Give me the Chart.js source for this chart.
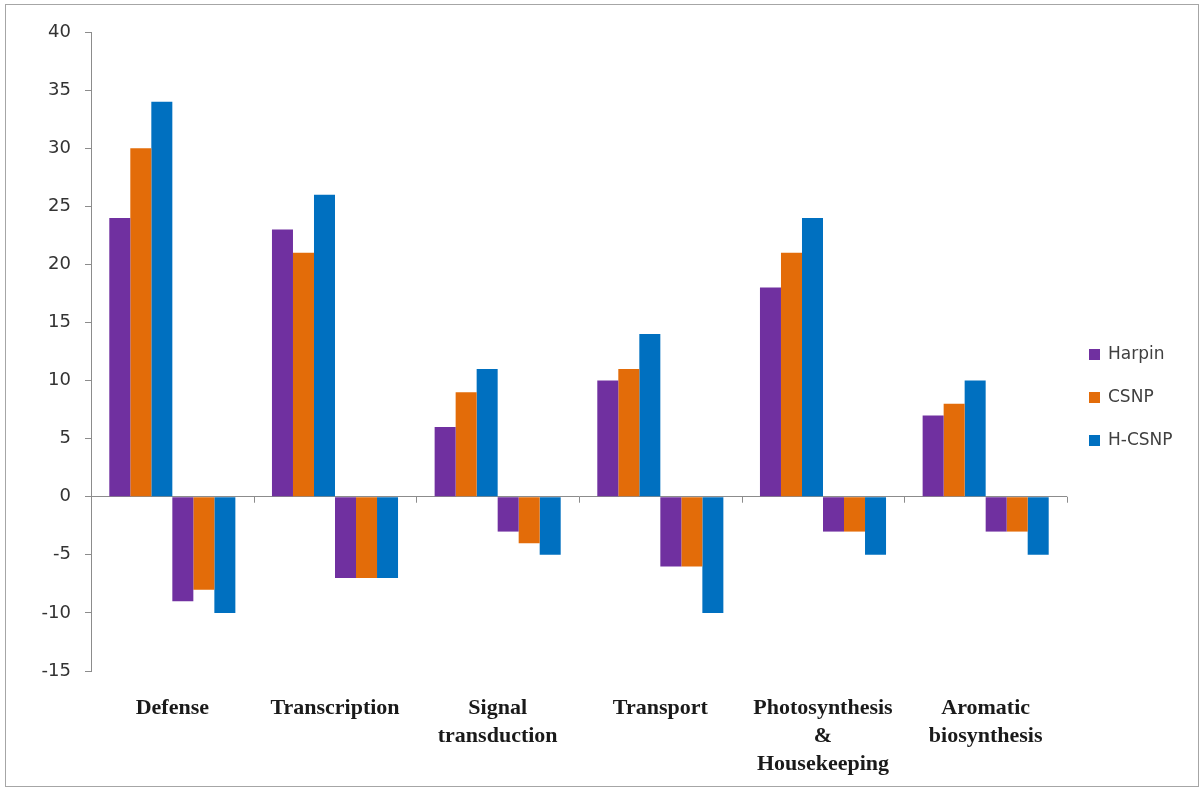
<!DOCTYPE html>
<html>
<head>
<meta charset="utf-8">
<script src="https://cdn.jsdelivr.net/npm/chart.js@4/dist/chart.umd.min.js"></script>
<style>
  html, body { margin: 0; padding: 0; background: #fff; }
  #wrap { position: relative; width: 1203px; height: 789px; }
  #frame { position: absolute; left: 5px; top: 4px; width: 1192px; height: 781px;
           border: 1px solid #a6a6a6; pointer-events: none; }
  canvas { position: absolute; left: 0; top: 0; }
</style>
</head>
<body>
<div id="wrap">
  <canvas id="barChart" width="1203" height="789"></canvas>
  <div id="frame"></div>
</div>
<script>
const categories = ['Defense', 'Transcription', ['Signal', 'transduction'], 'Transport',
  ['Photosynthesis', '&', 'Housekeeping'], ['Aromatic', 'biosynthesis']];
const seriesNames = ['Harpin', 'CSNP', 'H-CSNP'];
const seriesColors = ['#7030a0', '#e36c09', '#0070c0'];

// up-regulated (positive) and down-regulated (negative) counts
const upHarpin = [24, 23, 6, 10, 18, 7];
const upCSNP = [30, 21, 9, 11, 21, 8];
const upHCSNP = [34, 26, 11, 14, 24, 10];
const downHarpin = [-9, -7, -3, -6, -3, -3];
const downCSNP = [-8, -7, -4, -6, -3, -3];
const downHCSNP = [-10, -7, -5, -10, -5, -5];

const yMin = -15, yMax = 40, yStep = 5;

const upSets = [upHarpin, upCSNP, upHCSNP];
const downSets = [downHarpin, downCSNP, downHCSNP];
const datasets = [];
upSets.forEach((d, i) => datasets.push({ label: seriesNames[i], data: d, backgroundColor: seriesColors[i] }));
downSets.forEach((d, i) => datasets.push({ label: seriesNames[i] + ' down', data: d, backgroundColor: seriesColors[i] }));

// small tick marks on the zero line between categories
const zeroTicks = {
  id: 'zeroTicks',
  afterDatasetsDraw(chart) {
    const x = chart.scales.x, y = chart.scales.y, c = chart.ctx;
    const y0 = y.getPixelForValue(0);
    const step = (x.getPixelForValue(1) - x.getPixelForValue(0));
    c.save();
    c.strokeStyle = '#8c8c8c';
    c.lineWidth = 1;
    for (let i = 0; i <= categories.length; i++) {
      const px = Math.round(x.getPixelForValue(0) - step / 2 + i * step) + 0.5;
      c.beginPath();
      c.moveTo(px, y0);
      c.lineTo(px, y0 + 6);
      c.stroke();
    }
    c.restore();
  }
};

// legend on the right, only the three treatments
const sideLegend = {
  id: 'sideLegend',
  afterDraw(chart) {
    const c = chart.ctx;
    c.save();
    c.font = '17px "DejaVu Sans"';
    c.textBaseline = 'middle';
    seriesNames.forEach((name, i) => {
      const cy = 354 + i * 43;
      c.fillStyle = seriesColors[i];
      c.fillRect(1089, cy - 5, 11, 11);
      c.fillStyle = '#404040';
      c.fillText(name, 1108, cy + 1);
    });
    c.restore();
  }
};

new Chart(document.getElementById('barChart'), {
  type: 'bar',
  data: { labels: categories, datasets: datasets },
  options: {
    responsive: false,
    animation: false,
    devicePixelRatio: 1,
    layout: { padding: { top: 32, right: 136, left: 0, bottom: 0 } },
    datasets: { bar: { categoryPercentage: 0.775, barPercentage: 1, borderWidth: 0 } },
    plugins: { legend: { display: false }, tooltip: { enabled: false } },
    scales: {
      x: {
        border: { display: false },
        grid: { display: false },
        ticks: {
          color: '#1a1a1a',
          font: { family: '"Liberation Serif"', size: 22, weight: 'bold', lineHeight: 1.27 },
          padding: 15,
          maxRotation: 0,
          autoSkip: false
        },
        afterFit(s) { s.height = 118; }
      },
      y: {
        min: yMin,
        max: yMax,
        border: { display: true, color: '#8c8c8c' },
        grid: {
          drawOnChartArea: true,
          color: c => c.tick && c.tick.value === 0 ? '#8c8c8c' : 'rgba(0,0,0,0)',
          tickColor: '#8c8c8c',
          tickLength: 6
        },
        ticks: {
          stepSize: yStep,
          color: '#333',
          font: { family: '"DejaVu Sans"', size: 18 },
          padding: 14
        },
        afterFit(s) { s.width = 91; }
      }
    }
  },
  plugins: [zeroTicks, sideLegend]
});
</script>
</body>
</html>
